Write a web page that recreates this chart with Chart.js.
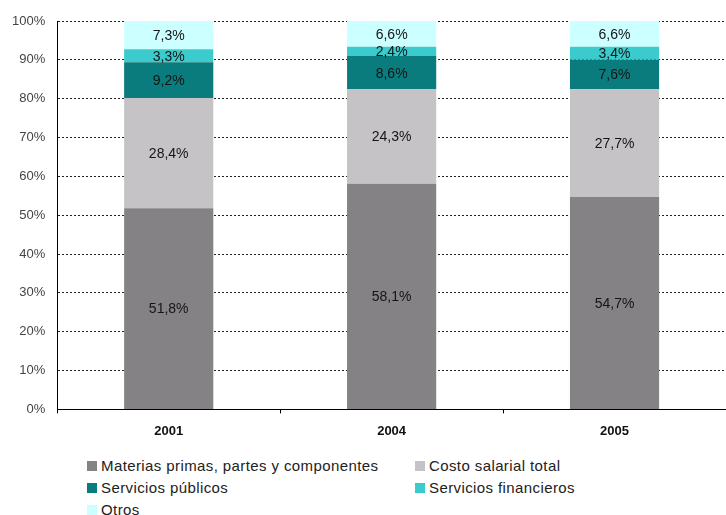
<!DOCTYPE html>
<html lang="es">
<head>
<meta charset="UTF-8">
<title>Estructura de costos</title>
<script src="https://cdn.jsdelivr.net/npm/chart.js"></script>
<style>
    body {
        margin: 0;
        background: #fff;
        font-family: "Liberation Sans", Arial, sans-serif;
    }
    .wrap {
        position: relative;
        width: 726px;
        height: 515px;
    }
    .chart-box {
        position: absolute;
        left: 0;
        top: 0;
        width: 726px;
        height: 449px;
    }
    .legend {
        position: absolute;
        left: 87px;
        top: 456px;
        display: grid;
        grid-template-columns: 328px 260px;
        row-gap: 3px;
        font-size: 15px;
        letter-spacing: 0.4px;
        color: #222;
    }
    .legend span {
        display: flex;
        align-items: center;
        height: 19px;
    }
    .legend i {
        display: inline-block;
        width: 10px;
        height: 10px;
        margin-right: 4px;
    }
</style>
</head>
<body>
<div class="wrap">
    <div class="chart-box"><canvas id="grafico"></canvas></div>
    <div class="legend" id="leyenda"></div>
</div>
<script>
    // Años y participación de cada rubro (%)
    const anios = ['2001', '2004', '2005'];
    const materiasPrimas = [51.8, 58.1, 54.7];
    const costoSalarial = [28.4, 24.3, 27.7];
    const serviciosPublicos = [9.2, 8.6, 7.6];
    const serviciosFinancieros = [3.3, 2.4, 3.4];
    const otros = [7.3, 6.6, 6.6];

    const series = [
        { label: 'Materias primas, partes y componentes', data: materiasPrimas, color: '#858285' },
        { label: 'Costo salarial total', data: costoSalarial, color: '#c6c3c7' },
        { label: 'Servicios públicos', data: serviciosPublicos, color: '#0b7c7d' },
        { label: 'Servicios financieros', data: serviciosFinancieros, color: '#3ccbcc' },
        { label: 'Otros', data: otros, color: '#ccffff' }
    ];

    const fuente = '"Liberation Sans", Arial, sans-serif';

    // Etiquetas con el valor en el centro de cada tramo
    const etiquetasValor = {
        id: 'etiquetasValor',
        afterDatasetsDraw(chart) {
            const ctx = chart.ctx;
            ctx.save();
            ctx.font = '14px ' + fuente;
            ctx.fillStyle = '#151515';
            ctx.textAlign = 'center';
            ctx.textBaseline = 'middle';
            chart.data.datasets.forEach((ds, i) => {
                chart.getDatasetMeta(i).data.forEach((bar, j) => {
                    const texto = ds.data[j].toFixed(1).replace('.', ',') + '%';
                    ctx.fillText(texto, bar.x, (bar.y + bar.base) / 2 + 1);
                });
            });
            ctx.restore();
        }
    };

    new Chart(document.getElementById('grafico'), {
        type: 'bar',
        data: {
            labels: anios,
            datasets: series.map(s => ({
                label: s.label,
                data: s.data,
                backgroundColor: s.color,
                borderWidth: 0,
                barPercentage: 0.8,
                categoryPercentage: 0.5
            }))
        },
        options: {
            responsive: true,
            maintainAspectRatio: false,
            animation: false,
            layout: { padding: { top: 21, right: 0, left: 0, bottom: 0 } },
            plugins: {
                legend: { display: false },
                tooltip: { enabled: false }
            },
            scales: {
                x: {
                    stacked: true,
                    grid: {
                        display: true,
                        drawOnChartArea: false,
                        drawTicks: true,
                        tickLength: 4,
                        color: '#000'
                    },
                    border: { display: true, color: '#000', width: 1 },
                    ticks: {
                        color: '#111',
                        padding: 10,
                        font: { family: fuente, size: 13, weight: 'bold' }
                    }
                },
                y: {
                    stacked: true,
                    min: 0,
                    max: 100,
                    ticks: {
                        stepSize: 10,
                        padding: 12,
                        color: '#444',
                        font: { family: fuente, size: 13 },
                        callback: v => v + '%'
                    },
                    grid: {
                        color: '#222',
                        lineWidth: 1,
                        drawTicks: false
                    },
                    border: { display: true, color: '#000', width: 1, dash: [2, 2] }
                }
            }
        },
        plugins: [etiquetasValor]
    });

    // Leyenda en dos columnas debajo del gráfico
    const leyenda = document.getElementById('leyenda');
    series.forEach(s => {
        const item = document.createElement('span');
        const cuadro = document.createElement('i');
        cuadro.style.background = s.color;
        item.appendChild(cuadro);
        item.appendChild(document.createTextNode(s.label));
        leyenda.appendChild(item);
    });
</script>
</body>
</html>
